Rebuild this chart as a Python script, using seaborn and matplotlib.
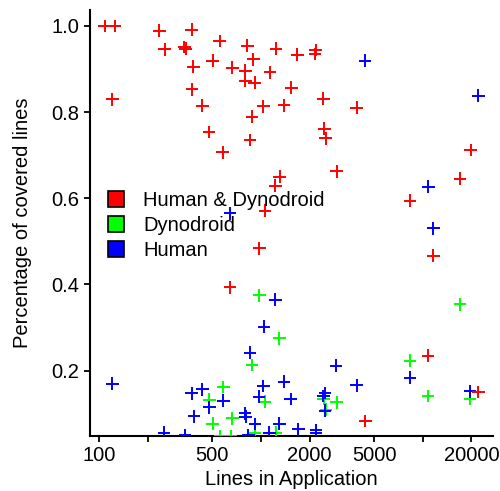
import numpy as np
import pandas as pd
import matplotlib
matplotlib.use("Agg")
import matplotlib.pyplot as plt
from matplotlib.lines import Line2D
import seaborn as sns

# ---- data ----
groups = ["Human & Dynodroid", "Dynodroid", "Human"]
colors = {"Human & Dynodroid": "#ff0000", "Dynodroid": "#00ff00", "Human": "#0000ff"}

both_x = [108, 125, 235, 373, 254, 336, 343, 555, 823, 1238, 1681, 2173, 2158,
          381, 503, 664, 800, 896, 1137, 800, 914, 374, 1538, 120, 433, 1033,
          1388, 880, 477, 855, 580, 1305, 1226, 1058, 2428, 3907, 2463, 2513,
          2938, 19810, 17010, 8346, 11630, 10780, 22070, 4416, 976, 643]
both_y = [1.0, 1.0, 0.989, 0.991, 0.946, 0.951, 0.947, 0.965, 0.954, 0.947,
          0.933, 0.944, 0.935, 0.905, 0.919, 0.903, 0.896, 0.923, 0.892, 0.872,
          0.868, 0.853, 0.857, 0.830, 0.815, 0.813, 0.816, 0.789, 0.754, 0.735,
          0.707, 0.650, 0.629, 0.571, 0.831, 0.810, 0.761, 0.739, 0.663, 0.712,
          0.645, 0.594, 0.467, 0.234, 0.150, 0.083, 0.484, 0.393]

dyno_x = [976, 1298, 880, 585, 479, 503, 664, 1058, 918, 1238, 558, 652,
          2435, 2523, 2938, 17010, 8346, 10780, 19610]
dyno_y = [0.375, 0.275, 0.213, 0.162, 0.132, 0.077, 0.089, 0.128, 0.056, 0.056,
          0.047, 0.048, 0.135, 0.109, 0.126, 0.354, 0.223, 0.141, 0.135]

human_x = [4398, 22070, 10830, 643, 11630, 1226, 1044, 855, 8346, 19610, 2910,
           3907, 120, 251, 339, 373, 433, 585, 479, 385, 796, 804, 835, 1388,
           1033, 972, 1527, 918, 1298, 1125, 1701, 2188, 2188, 2488, 2428, 2488]
human_y = [0.919, 0.838, 0.627, 0.565, 0.530, 0.364, 0.302, 0.241, 0.183, 0.152,
           0.211, 0.166, 0.169, 0.056, 0.050, 0.147, 0.156, 0.130, 0.115, 0.094,
           0.101, 0.093, 0.050, 0.174, 0.164, 0.139, 0.134, 0.076, 0.077, 0.056,
           0.064, 0.062, 0.054, 0.148, 0.141, 0.107]

x_ticks = [100, 200, 500, 1000, 2000, 5000, 10000, 20000]
x_ticklabels = ["100", "", "500", "", "2000", "5000", "", "20000"]
y_ticks = [0.2, 0.4, 0.6, 0.8, 1.0]
y_ticklabels = ["0.2", "0.4", "0.6", "0.8", "1.0"]

df = pd.concat([
    pd.DataFrame({"lines": dyno_x, "cov": dyno_y, "group": "Dynodroid"}),
    pd.DataFrame({"lines": human_x, "cov": human_y, "group": "Human"}),
    pd.DataFrame({"lines": both_x, "cov": both_y, "group": "Human & Dynodroid"}),
], ignore_index=True)

sns.set_style("ticks")
plt.rcParams["font.family"] = ["Liberation Sans", "DejaVu Sans"]
plt.rcParams["text.color"] = "black"
plt.rcParams["axes.labelcolor"] = "black"

fig = plt.figure(figsize=(5.0, 4.91), dpi=100)
ax = fig.add_axes([0.18, 0.112, 0.806, 0.8676])

sns.scatterplot(data=df, x="lines", y="cov", hue="group", palette=colors,
                marker="+", s=85, linewidth=1.4, legend=False, ax=ax, zorder=3)

ax.set_xscale("log")
ax.set_xlim(87.6, 27200)
ax.set_ylim(0.048, 1.037)
ax.set_xticks(x_ticks)
ax.set_xticklabels(x_ticklabels)
ax.xaxis.set_minor_locator(matplotlib.ticker.NullLocator())
ax.set_yticks(y_ticks)
ax.set_yticklabels(y_ticklabels)

ax.set_xlabel("Lines in Application", fontsize=14.5, labelpad=3, color="black")
ax.set_ylabel("Percentage of covered lines", fontsize=14.5, labelpad=14, color="black")
ax.tick_params(axis="both", labelsize=14.5, direction="out", length=4.5,
               width=1.3, color="black", pad=3, labelcolor="black")
for side in ["left", "bottom"]:
    ax.spines[side].set_linewidth(1.5)
    ax.spines[side].set_color("black")
sns.despine(ax=ax)

handles = [Line2D([0], [0], marker="s", linestyle="none", markersize=11,
                  markerfacecolor=colors[g], markeredgecolor="black",
                  markeredgewidth=1.2, label=g) for g in groups]
leg = ax.legend(handles=handles, loc="upper left", bbox_to_anchor=(0.04, 0.5755),
                frameon=False, fontsize=14.5, borderpad=0, borderaxespad=0,
                handlelength=1.0, handletextpad=0.85, labelspacing=0.3)
for t in leg.get_texts():
    t.set_color("black")

fig.savefig("out.png", dpi=100)
